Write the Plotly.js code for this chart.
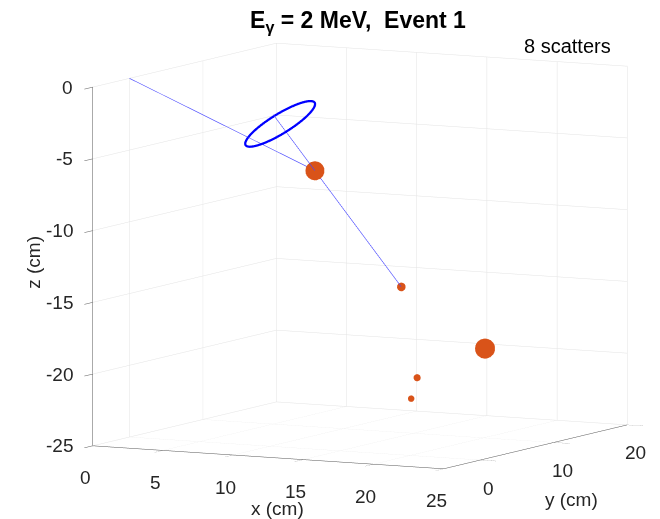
<!DOCTYPE html>
<html><head><meta charset="utf-8">
<script src="https://cdn.plot.ly/plotly-3.0.1.min.js"></script>
<style>html,body{margin:0;padding:0;background:#fff}#plot{width:660px;height:519px}</style>
</head><body><div id="plot"></div>
<script>
// ---- data ----
const sourcePos = [0, 0, 0];
const scatterX = [11.27, 15.46, 19.04, 17.35, 17.45];
const scatterY = [3.69, 7.46, 12.0, 6.0, 5.0];
const scatterZ = [-6.15, -14.45, -19.06, -20.48, -21.81];
const energyDep = [0.78, 0.16, 0.87, 0.11, 0.09]; // MeV
const gammaEnergy = 2; // MeV
const eventNumber = 1;
const totalScatters = 8;
const coneLength = 4.8; // cm
const xTicks = [0, 5, 10, 15, 20, 25];
const yTicks = [0, 10, 20];
const zTicks = [-25, -20, -15, -10, -5, 0];
const xRange = [0, 25], yRange = [-5, 20], zRange = [-25, 0];

// ---- geometry helpers ----
const sub = (a, b) => [a[0]-b[0], a[1]-b[1], a[2]-b[2]];
const add = (a, b) => [a[0]+b[0], a[1]+b[1], a[2]+b[2]];
const mul = (a, k) => [a[0]*k, a[1]*k, a[2]*k];
const nrm = v => { const l = Math.hypot(v[0], v[1], v[2]); return mul(v, 1/l); };
const cross = (a, b) => [a[1]*b[2]-a[2]*b[1], a[2]*b[0]-a[0]*b[2], a[0]*b[1]-a[1]*b[0]];

const s1 = [scatterX[0], scatterY[0], scatterZ[0]];
const s2 = [scatterX[1], scatterY[1], scatterZ[1]];
const axisDir = nrm(sub(s1, s2));
const me = 0.511;
const cosT = 1 - me * (1/(gammaEnergy - energyDep[0]) - 1/gammaEnergy);
const sinT = Math.sqrt(1 - cosT*cosT);
const ringC = add(s1, mul(axisDir, coneLength*cosT));
const ringR = coneLength * sinT;
const e1 = nrm(cross(axisDir, [0, 0, 1]));
const e2 = cross(axisDir, e1);
const rx = [], ry = [], rz = [];
for (let k = 0; k <= 120; k++) {
  const t = 2*Math.PI*k/120;
  const p = add(ringC, add(mul(e1, ringR*Math.cos(t)), mul(e2, ringR*Math.sin(t))));
  rx.push(p[0]); ry.push(p[1]); rz.push(p[2]);
}
const axisEnd = add(s1, mul(axisDir, coneLength));

const blue = '#0000ff';
const traces = [
  { type: 'scatter3d', mode: 'lines', x: [sourcePos[0], s1[0], s2[0]], y: [sourcePos[1], s1[1], s2[1]], z: [sourcePos[2], s1[2], s2[2]],
    line: { color: 'rgb(70,70,255)', width: 1.2 }, hoverinfo: 'skip', showlegend: false },
  { type: 'scatter3d', mode: 'lines', x: [s1[0], axisEnd[0]], y: [s1[1], axisEnd[1]], z: [s1[2], axisEnd[2]],
    line: { color: 'rgb(70,70,255)', width: 1.2 }, hoverinfo: 'skip', showlegend: false },
  { type: 'scatter3d', mode: 'lines', x: rx, y: ry, z: rz,
    line: { color: blue, width: 4.5 }, hoverinfo: 'skip', showlegend: false },
  { type: 'scatter3d', mode: 'markers', x: scatterX, y: scatterY, z: scatterZ,
    marker: { color: '#D95319', size: energyDep.map(e => 25*Math.sqrt(e)), opacity: 1, line: { width: 0 } },
    hoverinfo: 'skip', showlegend: false }
];

const font = { family: 'Liberation Sans, Arial, sans-serif', size: 19, color: '#262626' };
function axisCfg(range, ticks) {
  return {
    range: range, autorange: false, tickvals: ticks, showticklabels: false,
    ticks: 'outside', ticklen: 18, tickcolor: '#555', tickwidth: 1,
    showline: true, linecolor: '#555', linewidth: 1,
    showgrid: true, gridcolor: '#e3e3e3', gridwidth: 1,
    zeroline: false, showbackground: false, showspikes: false,
    title: { text: '' }
  };
}
const ann = [];
xTicks.forEach(v => ann.push({ x: v, y: yRange[0], z: zRange[0], text: String(v), showarrow: false,
  xanchor: 'center', yanchor: 'middle', xshift: -7, yshift: -32, font: font }));
yTicks.forEach(v => ann.push({ x: xRange[1], y: v, z: zRange[0], text: String(v), showarrow: false,
  xanchor: 'center', yanchor: 'middle', xshift: 9, yshift: -28, font: font }));
zTicks.forEach(v => ann.push({ x: xRange[0], y: yRange[0], z: v, text: String(v), showarrow: false,
  xanchor: 'right', yanchor: 'middle', xshift: -17, yshift: 0, font: font }));
ann.push({ x: (xRange[0]+xRange[1])/2, y: yRange[0], z: zRange[0], text: 'x (cm)', showarrow: false,
  xanchor: 'center', yanchor: 'middle', xshift: 10, yshift: -51, font: font });
ann.push({ x: xRange[1], y: (yRange[0]+yRange[1])/2, z: zRange[0], text: 'y (cm)', showarrow: false,
  xanchor: 'center', yanchor: 'middle', xshift: 37, yshift: -53, font: font });
ann.push({ x: xRange[0], y: yRange[0], z: (zRange[0]+zRange[1])/2, text: 'z (cm)', showarrow: false, textangle: -90,
  xanchor: 'center', yanchor: 'middle', xshift: -59, yshift: 4, font: font });

const dist = 3;
const boxScale = 1.65;
const view = [0.46013, -0.87899, 0.12518];
const layout = {
  width: 660, height: 519, margin: { l: 0, r: 0, t: 0, b: 0 },
  paper_bgcolor: '#fff',
  title: { text: '<b>E<sub>γ</sub> = ' + gammaEnergy + ' MeV,\u00A0 Event ' + eventNumber + '</b>',
    x: 0.5424, xanchor: 'center', y: 0.962, yanchor: 'middle', font: { family: 'Liberation Sans, Arial, sans-serif', size: 23, color: '#000' } },
  scene: {
    domain: { x: [0.0902, 0.9992], y: [0.0443, 0.9692] },
    xaxis: axisCfg(xRange, xTicks), yaxis: axisCfg(yRange, yTicks), zaxis: axisCfg(zRange, zTicks),
    aspectmode: 'manual', aspectratio: { x: boxScale, y: boxScale, z: 0.913*boxScale },
    camera: { eye: { x: view[0]*dist, y: view[1]*dist, z: view[2]*dist }, up: { x: 0, y: 0, z: 1 }, center: { x: 0, y: 0, z: 0 },
      projection: { type: 'orthographic' } },
    annotations: ann,
    dragmode: false
  },
  annotations: [{ xref: 'paper', yref: 'paper', x: 567/660, y: 1 - 46/519, text: totalScatters + ' scatters', showarrow: false,
    xanchor: 'center', yanchor: 'middle', font: { family: 'Liberation Sans, Arial, sans-serif', size: 20, color: '#000' } }],
  showlegend: false, hovermode: false
};
Plotly.newPlot('plot', traces, layout, { displayModeBar: false });
</script></body></html>
